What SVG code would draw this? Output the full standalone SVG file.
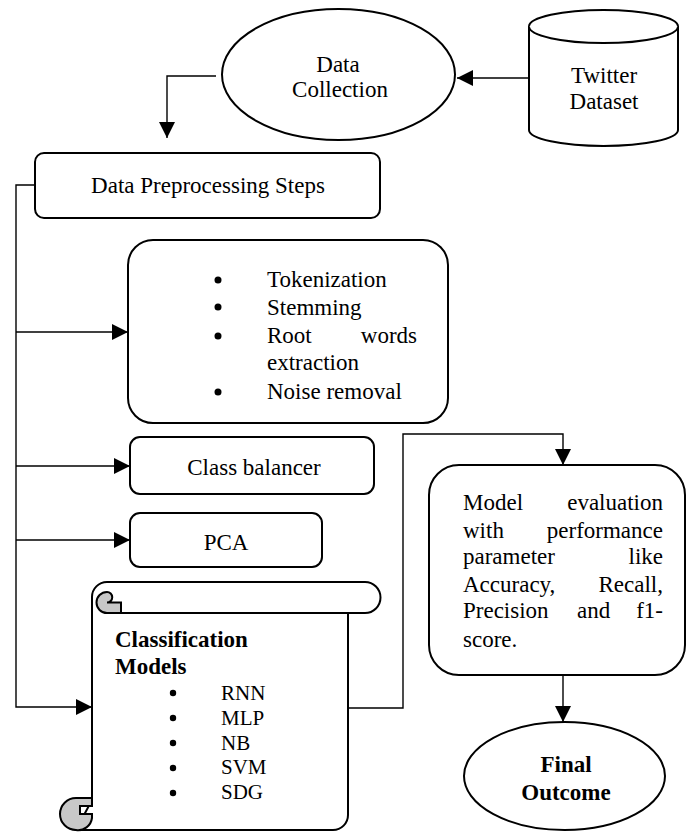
<svg xmlns="http://www.w3.org/2000/svg" width="689" height="833" viewBox="0 0 689 833">
<style>
.shape{fill:#fff;stroke:#000;stroke-width:2}
.curl{fill:#c8c8c8;stroke:#000;stroke-width:2}
.conn{fill:none;stroke:#000;stroke-width:1.4}
text{font-family:"Liberation Serif","Times New Roman",serif;font-size:23px;fill:#000}
.c{text-anchor:middle}
.e{text-anchor:end}
.b{font-weight:bold}
.s{font-size:21px}
</style>
<defs>
<marker id="arr" markerUnits="userSpaceOnUse" markerWidth="16" markerHeight="16" viewBox="0 0 16 16" refX="16" refY="8" orient="auto">
<path d="M0,0 L16,8 L0,16 Z" fill="#000"/>
</marker>
</defs>
<g id="connectors">
<path class="conn" d="M529,78 H457" marker-end="url(#arr)"/>
<path class="conn" d="M216,76 H167 V138" marker-end="url(#arr)"/>
<path class="conn" d="M35,185 H16 V707 H92" marker-end="url(#arr)"/>
<path class="conn" d="M16,332 H128" marker-end="url(#arr)"/>
<path class="conn" d="M16,466 H130" marker-end="url(#arr)"/>
<path class="conn" d="M16,540 H130" marker-end="url(#arr)"/>
<path class="conn" d="M348,708 H403 V434 H563 V465" marker-end="url(#arr)"/>
<path class="conn" d="M563,675 V722" marker-end="url(#arr)"/>
</g>
<g id="data-collection">
<ellipse class="shape" cx="338.5" cy="74.5" rx="116.5" ry="65.5"/>
<text class="c" x="338" y="72">Data</text>
<text class="c" x="340" y="97">Collection</text>
</g>
<g id="twitter-dataset">
<path class="shape" d="M529,26.5 A74.5,16.5 0 0 1 678,26.5 V130 A74.5,16 0 0 1 529,130 Z"/>
<path class="shape" fill="none" d="M529,26.5 A74.5,16.5 0 0 0 678,26.5"/>
<text class="c" x="604" y="83">Twitter</text>
<text class="c" x="604" y="109">Dataset</text>
</g>
<g id="preprocessing">
<rect class="shape" x="35" y="153" width="345" height="65" rx="9"/>
<text class="c" x="208" y="193">Data Preprocessing  Steps</text>
</g>
<g id="steps">
<rect class="shape" x="128" y="240" width="320" height="183" rx="25"/>
<circle cx="218" cy="280" r="3.5"/>
<circle cx="218" cy="307" r="3.5"/>
<circle cx="218" cy="336" r="3.5"/>
<circle cx="218" cy="392" r="3.5"/>
<text x="267" y="287">Tokenization</text>
<text x="267" y="315">Stemming</text>
<text x="267" y="343">Root</text>
<text class="e" x="417" y="343">words</text>
<text x="267" y="370">extraction</text>
<text x="267" y="399">Noise removal</text>
</g>
<g id="class-balancer">
<rect class="shape" x="130" y="437" width="244" height="57" rx="10"/>
<text class="c" x="254" y="475">Class balancer</text>
</g>
<g id="pca">
<rect class="shape" x="130" y="513" width="192" height="54" rx="10"/>
<text class="c" x="226" y="550">PCA</text>
</g>
<g id="classification-models">
<path class="shape" d="M107,582 H365 A15.5,15.5 0 0 1 365,613 H348 V815 A15,15 0 0 1 333,830 H76 L92,800 V597 A15,15 0 0 1 107,582 Z"/>
<path class="shape" d="M107,613 H348"/>
<path class="curl" d="M107,613 A10.5,10.5 0 0 1 107,592 A5.25,5.25 0 0 1 107,602.5 H121 V613 Z"/>
<path class="curl" d="M76,830 A16,16 0 0 1 76,798 H92 V806 H80 V814 H92 V818 A14,14 0 0 1 76,830 Z"/>
<text class="b" x="115" y="647">Classification</text>
<text class="b" x="115" y="674">Models</text>
<circle cx="173" cy="693" r="3.2"/>
<circle cx="173" cy="718" r="3.2"/>
<circle cx="173" cy="743" r="3.2"/>
<circle cx="173" cy="768" r="3.2"/>
<circle cx="173" cy="793" r="3.2"/>
<text class="s" x="221" y="700">RNN</text>
<text class="s" x="221" y="725">MLP</text>
<text class="s" x="221" y="750">NB</text>
<text class="s" x="221" y="774">SVM</text>
<text class="s" x="221" y="799">SDG</text>
</g>
<g id="model-evaluation">
<rect class="shape" x="429" y="465" width="256" height="210" rx="30"/>
<text x="463" y="510">Model</text>
<text class="e" x="663" y="510">evaluation</text>
<text x="463" y="538">with</text>
<text class="e" x="663" y="538">performance</text>
<text x="463" y="564">parameter</text>
<text class="e" x="663" y="564">like</text>
<text x="463" y="592">Accuracy,</text>
<text class="e" x="663" y="592">Recall,</text>
<text x="463" y="618">Precision</text>
<text x="577" y="618">and</text>
<text class="e" x="663" y="618">f1-</text>
<text x="463" y="647">score.</text>
</g>
<g id="final-outcome">
<ellipse class="shape" cx="564.5" cy="776" rx="100.5" ry="54"/>
<text class="c b" x="566" y="772">Final</text>
<text class="c b" x="566" y="800">Outcome</text>
</g>
</svg>
